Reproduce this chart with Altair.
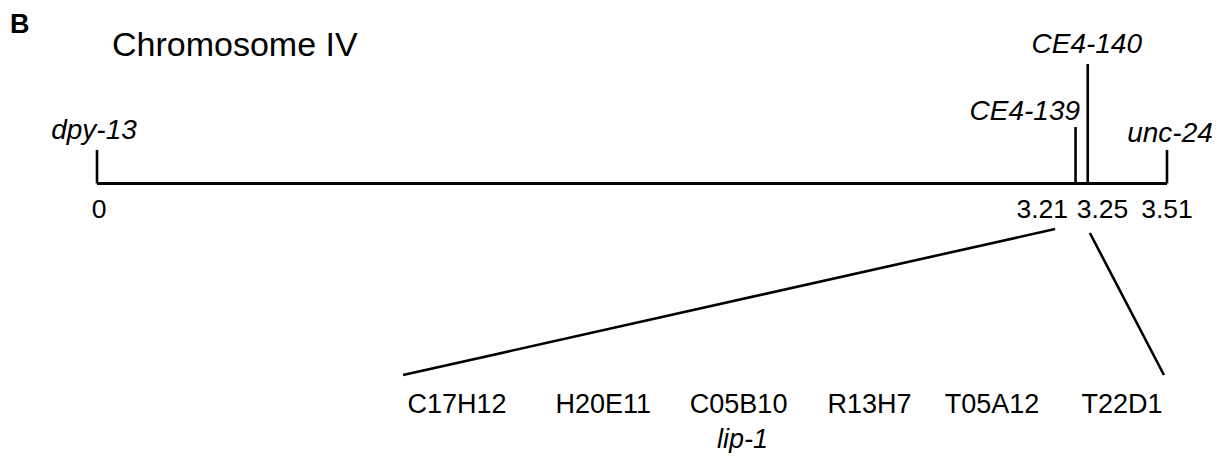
import altair as alt
import pandas as pd

# ---------------- data ----------------
panel_letter = "B"
chrom_name = "Chromosome IV"
markers = ["dpy-13", "CE4-139", "CE4-140", "unc-24"]
marker_pos = [0.0, 3.21, 3.25, 3.51]            # genetic map position
pos_labels = ["0", "3.21", "3.25", "3.51"]
interval = [3.21, 3.25]                          # interval that is expanded below
clones = ["C17H12", "H20E11", "C05B10", "R13H7", "T05A12", "T22D1"]
clone_frac = [0.071, 0.263, 0.441, 0.613, 0.774, 0.945]  # relative place in the expanded interval
clone_genes = ["", "", "lip-1", "", "", ""]

# ---------------- layout / style ----------------
W, H = 1205, 443
X_RANGE = [89, 1159]          # pixels for map 0 .. 3.51
Y_LINE = 175.5
TICK_TOP = {"dpy-13": 142, "CE4-139": 119, "CE4-140": 56, "unc-24": 142}
NAME_BASE = {"dpy-13": 131, "CE4-139": 112, "CE4-140": 45, "unc-24": 134}
NAME_ALIGN = {"dpy-13": ("center", -3), "CE4-139": ("right", 4.5),
              "CE4-140": ("center", -1), "unc-24": ("center", 3)}
POS_BASE = 210
POS_ALIGN = {"0": ("center", 2), "3.21": ("right", -7.5),
             "3.25": ("left", -11), "3.51": ("center", 0)}
EXP_SPAN = [1.004, 3.500]     # expanded axis drawn across these map-scale units
ZOOM_TOP_PAD = [-0.067, 0.007]
ZOOM_TOP_Y = [221, 225]
ZOOM_BOT_Y = 367
CLONE_BASE = 405
GENE_BASE = 440
FONT = "Liberation Sans"
LW = 2.6

xs = alt.Scale(domain=[0, 3.51], range=X_RANGE)
ys = alt.Scale(domain=[0, H], range=[0, H])


def X(f):
    return alt.X(f, type="quantitative", scale=xs, axis=None)


def Y(f):
    return alt.Y(f, type="quantitative", scale=ys, axis=None)


layers = []

# chromosome line
chrom_df = pd.DataFrame({"x": [marker_pos[0]], "x2": [marker_pos[-1]], "y": [Y_LINE]})
layers.append(alt.Chart(chrom_df).mark_rule(color="black", strokeWidth=3).encode(
    x=X("x"), x2="x2", y=Y("y")))

# marker ticks
mk_df = pd.DataFrame({"name": markers, "x": marker_pos,
                      "top": [TICK_TOP[m] for m in markers],
                      "bot": [Y_LINE] * len(markers),
                      "base": [NAME_BASE[m] for m in markers]})
layers.append(alt.Chart(mk_df).mark_rule(color="black", strokeWidth=LW).encode(
    x=X("x"), y=Y("top"), y2="bot"))

# marker names (italic)
for m in markers:
    a, dx = NAME_ALIGN[m]
    layers.append(alt.Chart(mk_df[mk_df["name"] == m]).mark_text(
        align=a, dx=dx, baseline="alphabetic", font=FONT, fontSize=28,
        fontStyle="italic", color="black").encode(x=X("x"), y=Y("base"), text="name:N"))

# position labels
pl_df = pd.DataFrame({"lab": pos_labels, "x": marker_pos, "base": [POS_BASE] * len(pos_labels)})
for lab in pos_labels:
    a, dx = POS_ALIGN[lab]
    layers.append(alt.Chart(pl_df[pl_df["lab"] == lab]).mark_text(
        align=a, dx=dx, baseline="alphabetic", font=FONT, fontSize=26.5,
        color="black").encode(x=X("x"), y=Y("base"), text="lab:N"))

# zoom lines from the interval to the expanded axis
zoom_df = pd.DataFrame({
    "x": [interval[0] + ZOOM_TOP_PAD[0], interval[1] + ZOOM_TOP_PAD[1]],
    "x2": [EXP_SPAN[0], EXP_SPAN[1]],
    "y": ZOOM_TOP_Y, "y2": [ZOOM_BOT_Y, ZOOM_BOT_Y]})
layers.append(alt.Chart(zoom_df).mark_rule(color="black", strokeWidth=LW).encode(
    x=X("x"), x2="x2", y=Y("y"), y2="y2"))

# clones
cl_df = pd.DataFrame({
    "clone": clones,
    "x": [EXP_SPAN[0] + f * (EXP_SPAN[1] - EXP_SPAN[0]) for f in clone_frac],
    "gene": clone_genes,
    "base": [CLONE_BASE] * len(clones),
    "gbase": [GENE_BASE] * len(clones)})
layers.append(alt.Chart(cl_df).mark_text(
    align="center", baseline="alphabetic", font=FONT, fontSize=27, color="black").encode(
    x=X("x"), y=Y("base"), text="clone:N"))
layers.append(alt.Chart(cl_df[cl_df["gene"] != ""]).mark_text(
    align="center", dx=4, baseline="alphabetic", font=FONT, fontSize=27,
    fontStyle="italic", color="black").encode(x=X("x"), y=Y("gbase"), text="gene:N"))

# title texts
tt_df = pd.DataFrame({"t": [panel_letter], "px": [2], "py": [25]})
layers.append(alt.Chart(tt_df).mark_text(
    align="left", baseline="alphabetic", font=FONT, fontSize=27, fontWeight="bold",
    color="black").encode(
    x=alt.X("px:Q", scale=alt.Scale(domain=[0, W], range=[0, W]), axis=None),
    y=Y("py"), text="t:N"))
ch_df = pd.DataFrame({"t": [chrom_name], "px": [104], "py": [48]})
layers.append(alt.Chart(ch_df).mark_text(
    align="left", baseline="alphabetic", font=FONT, fontSize=34, color="black").encode(
    x=alt.X("px:Q", scale=alt.Scale(domain=[0, W], range=[0, W]), axis=None),
    y=Y("py"), text="t:N"))

chart = alt.layer(*layers).resolve_scale(x="independent").properties(
    width=W, height=H, padding=0, background="white"
).configure_view(stroke=None)

chart.save("out.html", embed_options={"renderer": "svg", "actions": False})
